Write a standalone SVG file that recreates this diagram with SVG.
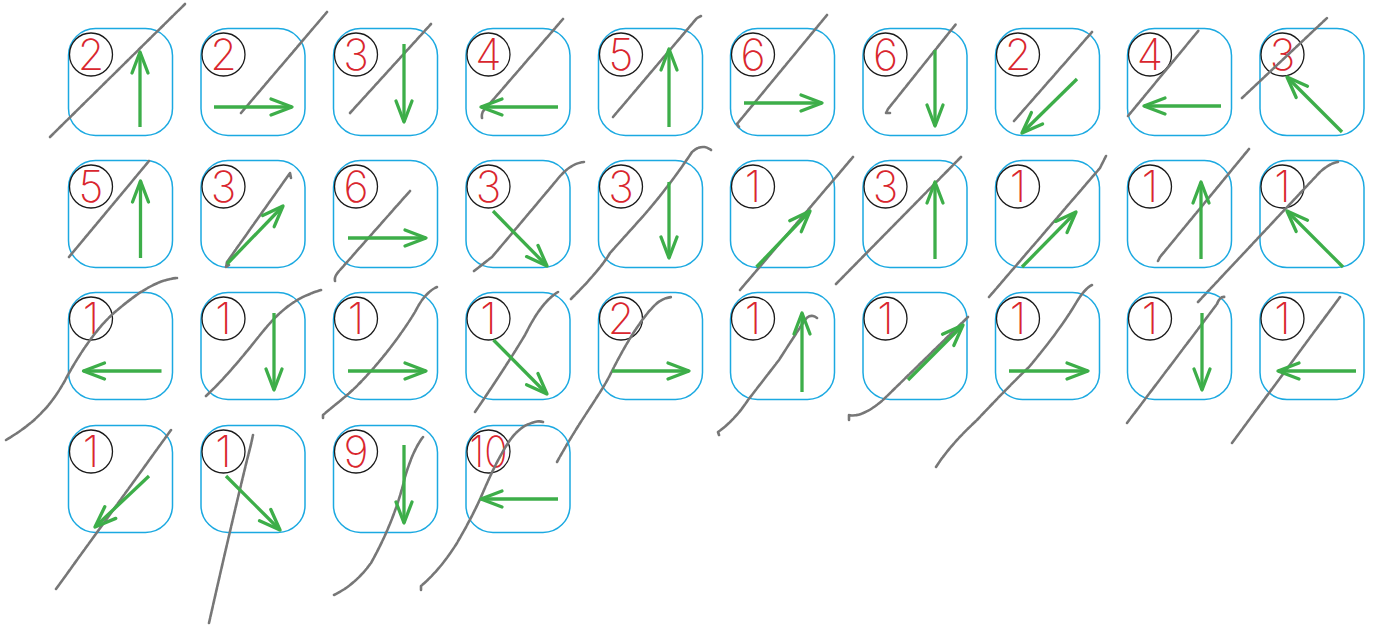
<svg xmlns="http://www.w3.org/2000/svg" width="1373" height="625" viewBox="0 0 1373 625">
<defs>
<style>
.box{fill:none;stroke:#1ba9e1;stroke-width:1.5}
.cir{fill:none;stroke:#1a1a1a;stroke-width:1.3}
.num{font-family:"Inter","DejaVu Sans",sans-serif;font-weight:200;font-size:43px;fill:#d9262e;text-anchor:middle}
.arr{fill:none;stroke:#3dae49;stroke-width:3.3;marker-end:url(#ah)}
.pen{fill:none;stroke:#777;stroke-width:2.6;stroke-linecap:round;stroke-linejoin:round;stroke-dasharray:5 1.2}
</style>
<marker id="ah" viewBox="0 0 24 20" markerWidth="24" markerHeight="20" refX="22" refY="10" orient="auto" markerUnits="userSpaceOnUse" overflow="visible">
<path d="M1,2 L22,10 L1,18" fill="none" stroke="#3dae49" stroke-width="3.3" stroke-linecap="round" stroke-linejoin="round"/>
</marker>
</defs>
<rect width="1373" height="625" fill="#fff"/>

<g id="r1c1"><rect class="box" x="68.5" y="28.5" width="104" height="107" rx="27"/><circle class="cir" cx="91" cy="54.5" r="21.5"/><text class="num" x="91" y="70">2</text><path class="pen" d="M50,137 L185,4"/><line class="arr" x1="140" y1="127" x2="140" y2="52"/></g>
<g id="r1c2"><rect class="box" x="201" y="28.5" width="104" height="107" rx="27"/><circle class="cir" cx="223.5" cy="54.5" r="21.5"/><text class="num" x="223.5" y="70">2</text><path class="pen" d="M241,113 L327,12"/><line class="arr" x1="214" y1="107" x2="292" y2="107"/></g>
<g id="r1c3"><rect class="box" x="333.5" y="28.5" width="104" height="107" rx="27"/><circle class="cir" cx="356" cy="54.5" r="21.5"/><text class="num" x="356" y="70">3</text><path class="pen" d="M350,113 L431,24"/><line class="arr" x1="404" y1="44" x2="404" y2="122"/></g>
<g id="r1c4"><rect class="box" x="466" y="28.5" width="104" height="107" rx="27"/><circle class="cir" cx="488.5" cy="54.5" r="21.5"/><text class="num" x="488.5" y="70">4</text><path class="pen" d="M482,118 Q481,112 486,108 L563,19"/><line class="arr" x1="558" y1="107" x2="481" y2="107"/></g>
<g id="r1c5"><rect class="box" x="598.5" y="28.5" width="104" height="107" rx="27"/><circle class="cir" cx="621" cy="54.5" r="21.5"/><text class="num" x="621" y="70">5</text><path class="pen" d="M613,117 L697,18 L701,16"/><line class="arr" x1="669" y1="127" x2="669" y2="49"/></g>
<g id="r1c6"><rect class="box" x="730.5" y="28.5" width="104" height="107" rx="27"/><circle class="cir" cx="753" cy="54.5" r="21.5"/><text class="num" x="753" y="70">6</text><path class="pen" d="M739,127 L737,124 L827,15"/><line class="arr" x1="744" y1="103" x2="822" y2="103"/></g>
<g id="r1c7"><rect class="box" x="863" y="28.5" width="104" height="107" rx="27"/><circle class="cir" cx="885.5" cy="54.5" r="21.5"/><text class="num" x="885.5" y="70">6</text><path class="pen" d="M890,113 L886,113 L888,109 L956,24"/><line class="arr" x1="935" y1="50" x2="935" y2="126"/></g>
<g id="r1c8"><rect class="box" x="995.5" y="28.5" width="104" height="107" rx="27"/><circle class="cir" cx="1018" cy="54.5" r="21.5"/><text class="num" x="1018" y="70">2</text><path class="pen" d="M1014,121 L1092,32"/><line class="arr" x1="1077" y1="79" x2="1022" y2="133"/></g>
<g id="r1c9"><rect class="box" x="1127.5" y="28.5" width="104" height="107" rx="27"/><circle class="cir" cx="1150" cy="54.5" r="21.5"/><text class="num" x="1150" y="70">4</text><path class="pen" d="M1128,116 L1199,30"/><line class="arr" x1="1221" y1="106" x2="1144" y2="106"/></g>
<g id="r1c10"><rect class="box" x="1260" y="28.5" width="104" height="107" rx="27"/><circle class="cir" cx="1282.5" cy="54.5" r="21.5"/><text class="num" x="1282.5" y="70">3</text><path class="pen" d="M1242,98 L1327,18"/><line class="arr" x1="1342" y1="132" x2="1287" y2="77"/></g>

<g id="r2c1"><rect class="box" x="68.5" y="160.5" width="104" height="107" rx="27"/><circle class="cir" cx="91" cy="186.5" r="21.5"/><text class="num" x="91" y="202">5</text><path class="pen" d="M69,257 L149,161"/><line class="arr" x1="140.5" y1="258" x2="140.5" y2="181"/></g>
<g id="r2c2"><rect class="box" x="201" y="160.5" width="104" height="107" rx="27"/><circle class="cir" cx="223.5" cy="186.5" r="21.5"/><text class="num" x="223.5" y="202">3</text><path class="pen" d="M229,265 L226,267 L227,262 L290,173 L291,178"/><line class="arr" x1="227" y1="264" x2="283" y2="206"/></g>
<g id="r2c3"><rect class="box" x="333.5" y="160.5" width="104" height="107" rx="27"/><circle class="cir" cx="356" cy="186.5" r="21.5"/><text class="num" x="356" y="202">6</text><path class="pen" d="M335,281 Q334,276 340,270 L410,191"/><line class="arr" x1="348" y1="238" x2="426" y2="238"/></g>
<g id="r2c4"><rect class="box" x="466" y="160.5" width="104" height="107" rx="27"/><circle class="cir" cx="488.5" cy="186.5" r="21.5"/><text class="num" x="488.5" y="202">3</text><path class="pen" d="M474,271 L492,257 Q530,212 556,181 Q570,163 584,162"/><line class="arr" x1="493" y1="211" x2="547" y2="266"/></g>
<g id="r2c5"><rect class="box" x="598.5" y="160.5" width="104" height="107" rx="27"/><circle class="cir" cx="621" cy="186.5" r="21.5"/><text class="num" x="621" y="202">3</text><path class="pen" d="M571,299 Q600,270 610,253 L645,214 Q670,185 692,152 Q702,143 711,150"/><line class="arr" x1="669" y1="182" x2="669" y2="258"/></g>
<g id="r2c6"><rect class="box" x="730.5" y="160.5" width="104" height="107" rx="27"/><circle class="cir" cx="753" cy="186.5" r="21.5"/><text class="num" x="753" y="202">1</text><path class="pen" d="M740,290 L853,157"/><line class="arr" x1="756.5" y1="267" x2="810" y2="211"/></g>
<g id="r2c7"><rect class="box" x="863" y="160.5" width="104" height="107" rx="27"/><circle class="cir" cx="885.5" cy="186.5" r="21.5"/><text class="num" x="885.5" y="202">3</text><path class="pen" d="M836,284 L961,157"/><line class="arr" x1="935" y1="259" x2="935" y2="182"/></g>
<g id="r2c8"><rect class="box" x="995.5" y="160.5" width="104" height="107" rx="27"/><circle class="cir" cx="1018" cy="186.5" r="21.5"/><text class="num" x="1018" y="202">1</text><path class="pen" d="M989,297 L1100,168 L1106,156"/><line class="arr" x1="1022" y1="267" x2="1076" y2="212"/></g>
<g id="r2c9"><rect class="box" x="1127.5" y="160.5" width="104" height="107" rx="27"/><circle class="cir" cx="1150" cy="186.5" r="21.5"/><text class="num" x="1150" y="202">1</text><path class="pen" d="M1158,261 L1160,257 L1249,149"/><line class="arr" x1="1201" y1="259" x2="1201" y2="182"/></g>
<g id="r2c10"><rect class="box" x="1260" y="160.5" width="104" height="107" rx="27"/><circle class="cir" cx="1282.5" cy="186.5" r="21.5"/><text class="num" x="1282.5" y="202">1</text><path class="pen" d="M1198,302 L1320,172 Q1330,163 1338,162"/><line class="arr" x1="1343" y1="267" x2="1287" y2="211"/></g>

<g id="r3c1"><rect class="box" x="68.5" y="292.5" width="104" height="107" rx="27"/><circle class="cir" cx="91" cy="318.5" r="21.5"/><text class="num" x="91" y="334">1</text><path class="pen" d="M6,440 C40,420 55,400 69,373 C85,345 100,325 115,312 C135,295 155,280 177,278"/><line class="arr" x1="161.5" y1="371" x2="83.5" y2="371"/></g>
<g id="r3c2"><rect class="box" x="201" y="292.5" width="104" height="107" rx="27"/><circle class="cir" cx="223.5" cy="318.5" r="21.5"/><text class="num" x="223.5" y="334">1</text><path class="pen" d="M206,396 C225,378 240,360 260,335 C280,310 295,298 321,290"/><line class="arr" x1="274" y1="313" x2="274" y2="390"/></g>
<g id="r3c3"><rect class="box" x="333.5" y="292.5" width="104" height="107" rx="27"/><circle class="cir" cx="356" cy="318.5" r="21.5"/><text class="num" x="356" y="334">1</text><path class="pen" d="M323,418 L323,415 Q335,405 346,396 C365,380 395,345 415,312 Q425,292 437,287"/><line class="arr" x1="348" y1="371" x2="426" y2="371"/></g>
<g id="r3c4"><rect class="box" x="466" y="292.5" width="104" height="107" rx="27"/><circle class="cir" cx="488.5" cy="318.5" r="21.5"/><text class="num" x="488.5" y="334">1</text><path class="pen" d="M475,412 C490,390 510,360 525,335 C535,315 545,300 558,292"/><line class="arr" x1="493.5" y1="340" x2="547" y2="394"/></g>
<g id="r3c5"><rect class="box" x="598.5" y="292.5" width="104" height="107" rx="27"/><circle class="cir" cx="621" cy="318.5" r="21.5"/><text class="num" x="621" y="334">2</text><path class="pen" d="M557,462 C580,420 600,395 610,375 C625,345 640,320 655,305 Q662,298 672,297"/><line class="arr" x1="612" y1="371" x2="689" y2="371"/></g>
<g id="r3c6"><rect class="box" x="730.5" y="292.5" width="104" height="107" rx="27"/><circle class="cir" cx="753" cy="318.5" r="21.5"/><text class="num" x="753" y="334">1</text><path class="pen" d="M719,435 L718,432 Q735,420 748,400 L779,360 Q795,335 805,320 Q810,313 817,318"/><line class="arr" x1="802" y1="392" x2="802" y2="313"/></g>
<g id="r3c7"><rect class="box" x="863" y="292.5" width="104" height="107" rx="27"/><circle class="cir" cx="885.5" cy="318.5" r="21.5"/><text class="num" x="885.5" y="334">1</text><path class="pen" d="M849,420 L849,415 Q862,418 883,400 L968,317"/><line class="arr" x1="908" y1="380" x2="963" y2="325"/></g>
<g id="r3c8"><rect class="box" x="995.5" y="292.5" width="104" height="107" rx="27"/><circle class="cir" cx="1018" cy="318.5" r="21.5"/><text class="num" x="1018" y="334">1</text><path class="pen" d="M936,467 Q950,445 977,420 Q1010,385 1029,367 Q1060,330 1076,303 Q1085,288 1092,285"/><line class="arr" x1="1009" y1="371" x2="1088" y2="371"/></g>
<g id="r3c9"><rect class="box" x="1127.5" y="292.5" width="104" height="107" rx="27"/><circle class="cir" cx="1150" cy="318.5" r="21.5"/><text class="num" x="1150" y="334">1</text><path class="pen" d="M1127,423 L1217,304 Q1220,296 1225,297"/><line class="arr" x1="1202" y1="313" x2="1202" y2="390"/></g>
<g id="r3c10"><rect class="box" x="1260" y="292.5" width="104" height="107" rx="27"/><circle class="cir" cx="1282.5" cy="318.5" r="21.5"/><text class="num" x="1282.5" y="334">1</text><path class="pen" d="M1232,443 L1340,297"/><line class="arr" x1="1356" y1="371" x2="1278" y2="371"/></g>

<g id="r4c1"><rect class="box" x="68.5" y="425.5" width="104" height="107" rx="27"/><circle class="cir" cx="91" cy="451.5" r="21.5"/><text class="num" x="91" y="467">1</text><path class="pen" d="M56,589 L171,430"/><line class="arr" x1="149" y1="476" x2="95" y2="527"/></g>
<g id="r4c2"><rect class="box" x="201" y="425.5" width="104" height="107" rx="27"/><circle class="cir" cx="223.5" cy="451.5" r="21.5"/><text class="num" x="223.5" y="467">1</text><path class="pen" d="M209,623 Q230,530 247,460 Q251,445 253,435"/><line class="arr" x1="226" y1="476" x2="280" y2="530"/></g>
<g id="r4c3"><rect class="box" x="333.5" y="425.5" width="104" height="107" rx="27"/><circle class="cir" cx="356" cy="451.5" r="21.5"/><text class="num" x="356" y="467">9</text><path class="pen" d="M334,595 Q355,585 371,563 Q395,520 405,477 Q413,450 423,437"/><line class="arr" x1="404" y1="445" x2="404" y2="523"/></g>
<g id="r4c4"><rect class="box" x="466" y="425.5" width="104" height="107" rx="27"/><circle class="cir" cx="488.5" cy="451.5" r="21.5"/><text class="num" x="488.5" y="467" textLength="38" lengthAdjust="spacingAndGlyphs">10</text><path class="pen" d="M421,590 L421,586 Q440,570 457,543 Q475,512 484,490 Q497,460 508,443 Q518,428 529,424 Q538,420 543,422"/><line class="arr" x1="558" y1="499" x2="481" y2="499"/></g>

<g id="connectors"></g>
</svg>
